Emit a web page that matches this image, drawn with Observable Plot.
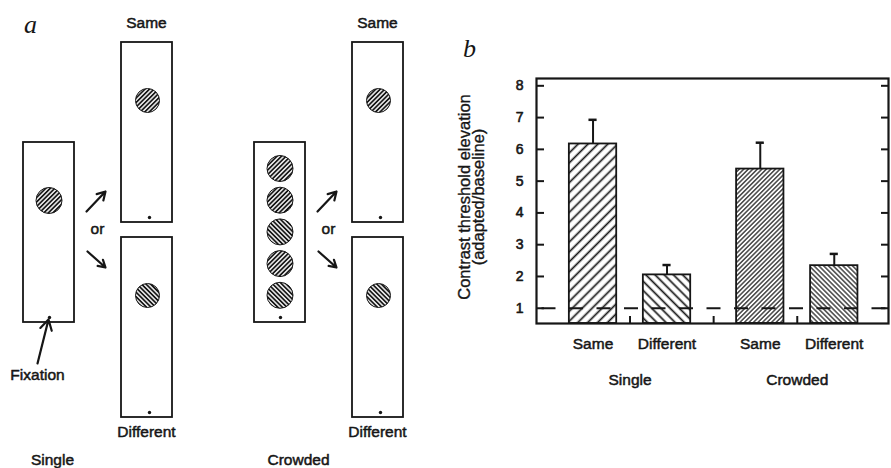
<!DOCTYPE html>
<html>
<head>
<meta charset="utf-8">
<script src="https://cdn.jsdelivr.net/npm/d3@7"></script>
<script src="https://cdn.jsdelivr.net/npm/@observablehq/plot@0.6"></script>
<style>
  html, body { margin: 0; padding: 0; background: #fff; }
  #fig { position: relative; width: 891px; height: 468px; overflow: hidden; background: #fff; }
  #fig svg { position: absolute; top: 0; overflow: visible; }
</style>
</head>
<body>
<div id="fig"></div>
<script>
// ---------------- DATA ----------------
// Panel b: contrast threshold elevation (adapted / baseline)
const groups = ["Single", "Crowded"];
const conditions = ["Same", "Different"];
const sameElevation = [6.17, 5.38];        // Single, Crowded
const differentElevation = [2.05, 2.34];   // Single, Crowded
const sameError = [0.76, 0.83];
const differentError = [0.31, 0.37];
const yTicks = [1, 2, 3, 4, 5, 6, 7, 8];
const baselineRatio = [1];
const yLabel = "Contrast threshold elevation\n(adapted/baseline)";

// Panel a: stimulus schematic (grating orientation of each patch)
const adaptOrientations = { Single: ["/"], Crowded: ["/", "/", "\\", "/", "\\"] };
const testOrientation = { Same: "/", Different: "\\" };
const fixationLabel = ["Fixation"];
const orLabel = "or";

// ---------------- STYLE / LAYOUT ----------------
const ink = "#161616";
const SANS = "'Liberation Sans', Arial, Helvetica, sans-serif";
const SERIF = "'Liberation Serif', 'DejaVu Serif', serif";
const fig = document.getElementById("fig");

function addHatches(svg, specs) {
  const defs = d3.select(svg).insert("defs", ":first-child");
  specs.forEach(s => {
    const p = defs.append("pattern")
      .attr("id", s.id)
      .attr("patternUnits", "userSpaceOnUse")
      .attr("width", s.gap).attr("height", s.gap)
      .attr("patternTransform", `rotate(${s.angle})`);
    p.append("rect").attr("width", s.gap).attr("height", s.gap).attr("fill", "white");
    p.append("line")
      .attr("x1", s.gap / 2).attr("x2", s.gap / 2)
      .attr("y1", -1).attr("y2", s.gap + 1)
      .attr("stroke", ink).attr("stroke-width", s.w);
  });
}

// ---------- Panel a (schematic) ----------
const groupShift = { Single: 0, Crowded: 231 };
const groupLabelX = { Single: 52, Crowded: 298 };
const boxes = [], adaptCircles = [], testCircles = [], fixDots = [], arrows = [], texts = [];
groups.forEach(g => {
  const s = groupShift[g];
  boxes.push({ x1: 23 + s, x2: 74 + s, y1: 142, y2: 322 });
  fixDots.push({ x: 49 + s, y: 317 });
  const ori = adaptOrientations[g];
  ori.forEach((o, i) => adaptCircles.push({ x: 48.5 + s, y: ori.length === 1 ? 200 : 168 + i * 31.7, o }));
  conditions.forEach((c, j) => {
    const top = j === 0 ? 42 : 237;
    boxes.push({ x1: 121 + s, x2: 172 + s, y1: top, y2: top + 180 });
    testCircles.push({ x: 147 + s, y: top + 58, o: testOrientation[c] });
    fixDots.push({ x: 149 + s, y: top + 175 });
    texts.push({ x: 146 + s, y: j === 0 ? 23 : 432, t: c });
  });
  arrows.push({ x1: 86 + s, y1: 211, x2: 105 + s, y2: 191 }, { x1: 87 + s, y1: 251, x2: 105 + s, y2: 267 });
  texts.push({ x: 97 + s, y: 229, t: orLabel }, { x: groupLabelX[g], y: 460, t: g });
});
texts.push({ x: 37, y: 375, t: fixationLabel[0] });
arrows.push({ x1: 37, y1: 363, x2: 48, y2: 319 });

const circHatch = o => (o === "/" ? "url(#cFwd)" : "url(#cBack)");

const plotA = Plot.plot({
  width: 450, height: 468, margin: 0,
  x: { domain: [0, 450], range: [0, 450], axis: null },
  y: { domain: [0, 468], range: [0, 468], axis: null },
  color: { type: "identity" },
  style: { fontFamily: SANS, background: "transparent", color: ink },
  marks: [
    Plot.rect(boxes, { x1: "x1", x2: "x2", y1: "y1", y2: "y2", fill: "white", stroke: ink, strokeWidth: 1.8 }),
    Plot.dot(adaptCircles, { x: "x", y: "y", r: 13, fill: d => circHatch(d.o), stroke: ink, strokeWidth: 1 }),
    Plot.dot(testCircles, { x: "x", y: "y", r: 12, fill: d => circHatch(d.o), stroke: ink, strokeWidth: 1 }),
    Plot.dot(fixDots, { x: "x", y: "y", r: 1.7, fill: ink }),
    Plot.arrow(arrows, { x1: "x1", y1: "y1", x2: "x2", y2: "y2", stroke: ink, strokeWidth: 2.2, headLength: 8 }),
    Plot.text(texts, { x: "x", y: "y", text: "t", fontSize: 15.5, fill: ink, stroke: ink, strokeWidth: 0.5 }),
    Plot.text(["a"], { x: 30, y: 24, text: d => d, textAnchor: "middle", fontFamily: SERIF, fontStyle: "italic", fontSize: 26, fill: ink })
  ]
});
addHatches(plotA, [
  { id: "cFwd", gap: 3.2, angle: 45, w: 1.8 },
  { id: "cBack", gap: 3.2, angle: -45, w: 1.8 }
]);
plotA.style.left = "0px";
fig.appendChild(plotA);

// ---------- Panel b (bar chart) ----------
const GROUP_STEP = 2.26, BAR_HALF = 0.32, CAP_HALF = 0.055;
const X_DOMAIN = [-0.764, 3.993];
const Y_DOMAIN = [0.52, 8.23];

const bars = [];
groups.forEach((g, gi) => conditions.forEach((c, ci) => {
  const mean = (c === "Same" ? sameElevation : differentElevation)[gi];
  const err = (c === "Same" ? sameError : differentError)[gi];
  bars.push({ group: g, condition: c, gi, ci, pos: gi * GROUP_STEP + ci, mean, top: mean + err });
}));
const groupCenters = groups.map((g, gi) => ({ group: g, pos: gi * GROUP_STEP + 0.5 }));
const mids = bars.slice(1).map((b, i) => (b.pos + bars[i].pos) / 2);
const barHatch = d => `url(#b${d.gi === 0 ? "Wide" : "Fine"}${d.ci === 0 ? "Fwd" : "Back"})`;

const plotB = Plot.plot({
  width: 451, height: 468,
  marginLeft: 96, marginRight: 3, marginTop: 78, marginBottom: 145,
  x: { domain: X_DOMAIN, axis: null },
  y: { domain: Y_DOMAIN, axis: null, label: null },
  color: { type: "identity" },
  style: { fontFamily: SANS, background: "transparent", color: ink },
  marks: [
    Plot.rect(bars, { x1: d => d.pos - BAR_HALF, x2: d => d.pos + BAR_HALF, y1: () => Y_DOMAIN[0], y2: "mean", fill: barHatch, stroke: ink, strokeWidth: 1.8 }),
    Plot.ruleX(bars, { x: "pos", y1: "mean", y2: "top", stroke: ink, strokeWidth: 2 }),
    Plot.ruleY(bars, { y: "top", x1: d => d.pos - CAP_HALF, x2: d => d.pos + CAP_HALF, stroke: ink, strokeWidth: 2.5 }),
    Plot.ruleY(baselineRatio, { stroke: ink, strokeWidth: 2, strokeDasharray: "14,13.5", strokeDashoffset: 22 }),
    Plot.text(yTicks, { y: d => d, text: d => String(d), frameAnchor: "left", textAnchor: "end", dx: -13, fontSize: 14, fill: ink, stroke: ink, strokeWidth: 0.6 }),
    Plot.axisY({ ticks: yTicks, anchor: "left", tickSize: -8, tickFormat: () => "", label: null, stroke: ink, strokeWidth: 2 }),
    Plot.axisY({ ticks: yTicks, anchor: "right", tickSize: -8, tickFormat: () => "", label: null, stroke: ink, strokeWidth: 2 }),
    Plot.axisX({ ticks: mids, anchor: "bottom", tickSize: -7, tickFormat: () => "", label: null, stroke: ink, strokeWidth: 2 }),
    Plot.frame({ stroke: ink, strokeWidth: 2.2 }),
    Plot.text(bars, { x: "pos", text: "condition", frameAnchor: "bottom", dy: 25, fontSize: 15.5, fill: ink, stroke: ink, strokeWidth: 0.5 }),
    Plot.text(groupCenters, { x: "pos", text: "group", frameAnchor: "bottom", dy: 61, fontSize: 15.5, fill: ink, stroke: ink, strokeWidth: 0.5 }),
    Plot.text([yLabel], { text: d => d, frameAnchor: "left", textAnchor: "middle", lineAnchor: "middle", dx: -64, dy: -4, rotate: -90, fontSize: 16.5, lineHeight: 0.85, fill: ink, stroke: ink, strokeWidth: 0.35 }),
    Plot.text(["b"], { text: d => d, frameAnchor: "top-left", textAnchor: "middle", lineAnchor: "middle", dx: -67, dy: -30, fontFamily: SERIF, fontStyle: "italic", fontSize: 26, fill: ink })
  ]
});
addHatches(plotB, [
  { id: "bWideFwd", gap: 7, angle: 45, w: 1.7 },
  { id: "bWideBack", gap: 6.5, angle: -45, w: 1.7 },
  { id: "bFineFwd", gap: 3.2, angle: 45, w: 1.2 },
  { id: "bFineBack", gap: 3.4, angle: -45, w: 1.2 }
]);
plotB.style.left = "440px";
fig.appendChild(plotB);
</script>
</body>
</html>
